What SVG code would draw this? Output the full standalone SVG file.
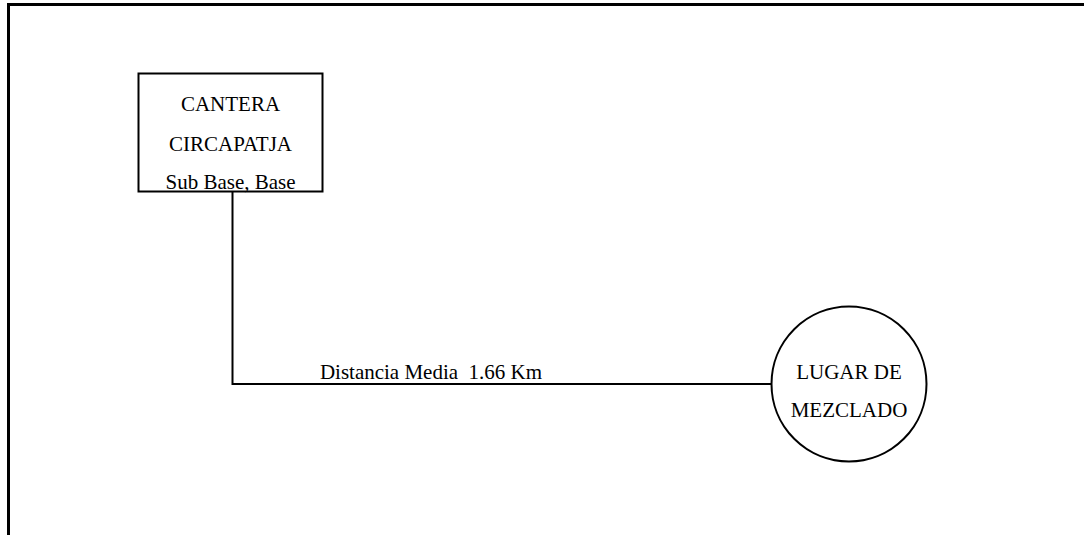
<svg xmlns="http://www.w3.org/2000/svg" width="1084" height="535" viewBox="0 0 1084 535">
<style>
  text { font-family: "Liberation Serif", "Times New Roman", serif; font-size: 21px; fill: #000; text-anchor: middle; }
  .shape { fill: #fff; stroke: #000; stroke-width: 2; }
  .conn { fill: none; stroke: #000; stroke-width: 2; }
</style>
<rect width="1084" height="535" fill="#fff"/>
<g id="frame">
  <path d="M8.5 535 V4.5 H1084" fill="none" stroke="#000" stroke-width="3"/>
</g>
<g id="connectors">
  <path class="conn" d="M232.5 192 V384 H771"/>
  <text x="431" y="379">Distancia Media&#160; 1.66 Km</text>
</g>
<g id="cantera">
  <rect class="shape" x="138.5" y="73.5" width="184" height="118"/>
  <text x="230.5" y="111">CANTERA</text>
  <text x="230.5" y="150.5">CIRCAPATJA</text>
  <text x="230.5" y="189">Sub Base, Base</text>
</g>
<g id="lugar">
  <circle class="shape" cx="849" cy="384" r="77.5" stroke-width="1.8"/>
  <text x="849" y="378.5">LUGAR DE</text>
  <text x="849" y="416.5">MEZCLADO</text>
</g>
</svg>
